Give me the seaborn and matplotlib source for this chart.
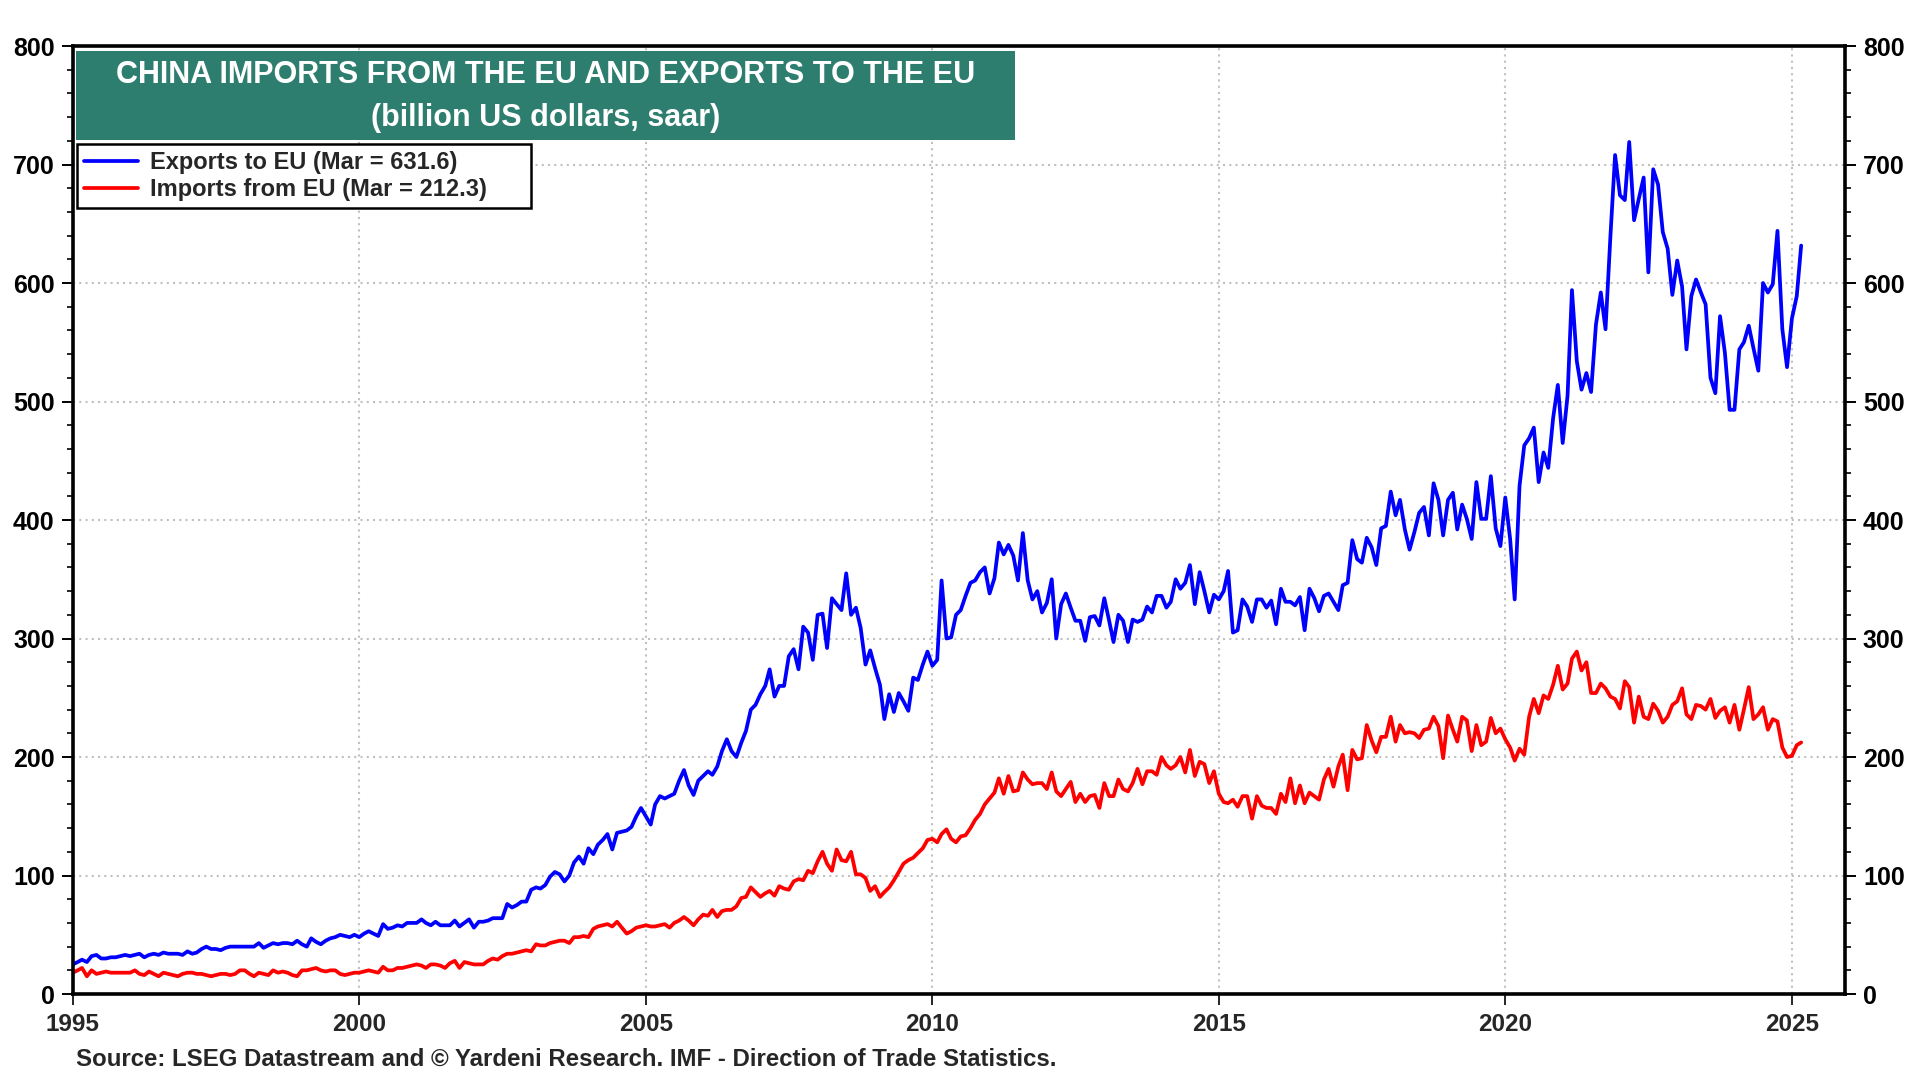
import numpy as np
import pandas as pd
import matplotlib
matplotlib.use("Agg")
import matplotlib.pyplot as plt
import matplotlib.dates as mdates
from matplotlib.patches import Rectangle
from matplotlib.ticker import MultipleLocator
import seaborn as sns

# monthly, billion US dollars saar, Jan 1995 .. Mar 2025 (one row per year)
exports = [
    25, 27, 29, 27, 32, 33, 30, 30, 31, 31, 32, 33,
    32, 33, 34, 31, 33, 34, 33, 35, 34, 34, 34, 33,
    36, 34, 35, 38, 40, 38, 38, 37, 39, 40, 40, 40,
    40, 40, 40, 43, 39, 41, 43, 42, 43, 43, 42, 45,
    42, 40, 47, 44, 42, 45, 47, 48, 50, 49, 48, 50,
    48, 51, 53, 51, 49, 59, 55, 56, 58, 57, 60, 60,
    60, 63, 60, 58, 61, 58, 58, 58, 62, 57, 60, 63,
    56, 61, 61, 62, 64, 64, 64, 76, 73, 75, 78, 78,
    88, 90, 89, 92, 99, 103, 101, 95, 100, 111, 116, 110,
    123, 118, 126, 130, 135, 122, 136, 137, 138, 141, 150, 157,
    150, 143, 160, 167, 165, 167, 169, 180, 189, 176, 168, 180,
    184, 188, 185, 192, 205, 215, 205, 200, 212, 222, 240, 244,
    253, 260, 274, 251, 260, 260, 285, 291, 274, 310, 305, 282,
    320, 321, 292, 334, 329, 324, 355, 320, 326, 309, 278, 290,
    275, 261, 232, 253, 238, 254, 247, 239, 267, 265, 278, 289,
    277, 282, 349, 300, 301, 320, 324, 336, 347, 349, 356, 360,
    338, 351, 381, 371, 379, 370, 349, 389, 349, 333, 340, 322,
    330, 350, 300, 329, 338, 326, 315, 315, 298, 318, 319, 311,
    334, 315, 297, 320, 315, 297, 316, 314, 316, 327, 322, 336,
    336, 326, 331, 350, 342, 347, 362, 329, 356, 340, 322, 337,
    333, 340, 357, 305, 307, 333, 327, 314, 333, 333, 326, 332,
    312, 342, 331, 331, 328, 335, 307, 342, 334, 323, 336, 338,
    331, 324, 345, 347, 383, 367, 364, 385, 377, 362, 393, 395,
    424, 404, 417, 392, 375, 390, 406, 411, 387, 431, 417, 387,
    417, 423, 392, 413, 401, 384, 432, 401, 401, 437, 393, 378,
    419, 384, 333, 429, 463, 469, 478, 432, 457, 444, 486, 514,
    465, 505, 594, 534, 510, 524, 508, 565, 592, 561, 639, 708,
    674, 670, 719, 653, 671, 689, 609, 696, 683, 643, 629, 590,
    619, 597, 544, 589, 603, 592, 582, 520, 507, 572, 541, 493,
    493, 544, 550, 564, 545, 526, 600, 592, 599, 644, 561, 529,
    570, 589, 631.6,
]

imports = [
    18, 20, 22, 15, 20, 17, 18, 19, 18, 18, 18, 18,
    18, 20, 17, 16, 19, 17, 15, 18, 17, 16, 15, 17,
    18, 18, 17, 17, 16, 15, 16, 17, 17, 16, 17, 20,
    20, 17, 15, 18, 17, 16, 20, 18, 19, 18, 16, 15,
    20, 20, 21, 22, 20, 19, 20, 20, 17, 16, 17, 18,
    18, 19, 20, 19, 18, 23, 20, 20, 22, 22, 23, 24,
    25, 24, 22, 25, 25, 24, 22, 26, 28, 22, 27, 26,
    25, 25, 25, 28, 30, 29, 32, 34, 34, 35, 36, 37,
    36, 42, 41, 41, 43, 44, 45, 45, 43, 48, 48, 49,
    48, 55, 57, 58, 59, 57, 61, 56, 51, 53, 56, 57,
    58, 57, 57, 58, 59, 56, 60, 62, 65, 62, 58, 63,
    67, 66, 71, 65, 70, 71, 71, 74, 81, 82, 90, 86,
    82, 85, 87, 83, 91, 89, 88, 95, 97, 96, 104, 102,
    112, 120, 110, 104, 122, 113, 112, 120, 101, 101, 98, 87,
    91, 82, 86, 90, 96, 103, 110, 113, 115, 119, 123, 130,
    131, 128, 135, 139, 131, 128, 133, 134, 140, 147, 152, 160,
    165, 170, 182, 169, 184, 171, 172, 187, 181, 177, 178, 178,
    173, 187, 171, 167, 173, 179, 162, 169, 162, 167, 168, 157,
    178, 167, 167, 181, 173, 171, 178, 190, 177, 188, 188, 185,
    200, 193, 190, 193, 200, 187, 206, 184, 196, 194, 178, 188,
    169, 162, 161, 164, 158, 167, 167, 148, 167, 159, 157, 157,
    152, 169, 162, 182, 161, 176, 161, 170, 167, 164, 181, 190,
    175, 192, 202, 172, 206, 198, 199, 227, 214, 204, 217, 217,
    234, 213, 227, 220, 221, 220, 216, 223, 224, 234, 226, 199,
    235, 223, 213, 234, 231, 205, 227, 210, 213, 233, 220, 224,
    215, 208, 197, 207, 202, 234, 249, 237, 252, 249, 261, 277,
    257, 262, 283, 289, 273, 280, 254, 254, 262, 258, 251, 249,
    241, 264, 259, 229, 251, 234, 232, 245, 239, 229, 234, 244,
    247, 258, 236, 232, 244, 243, 240, 249, 233, 239, 242, 229,
    244, 223, 240, 259, 232, 236, 242, 223, 232, 230, 208, 200,
    201, 210, 212.3,
]

months = pd.date_range("1995-01-01", periods=len(exports), freq="MS")
exp_label = f"Exports to EU (Mar = {exports[-1]:.1f})"
imp_label = f"Imports from EU (Mar = {imports[-1]:.1f})"

df = pd.DataFrame({
    "date": list(months) * 2,
    "value": exports + imports,
    "series": [exp_label] * len(exports) + [imp_label] * len(imports),
})

sns.set_style("white")
plt.rcParams["font.family"] = ["Liberation Sans", "DejaVu Sans"]
plt.rcParams["font.weight"] = "bold"

fig = plt.figure(figsize=(19.2, 10.8), dpi=100)
ax = fig.add_axes([0.0379, 0.0796, 0.9230, 0.8778])

sns.lineplot(data=df, x="date", y="value", hue="series",
             hue_order=[exp_label, imp_label], palette=["#0000ff", "#ff0000"],
             linewidth=2.7, errorbar=None, ax=ax)

ax.set_ylim(0, 800)
ax.set_xlim(pd.Timestamp("1995-01-01"), pd.Timestamp("2025-12-05"))
ax.set_xlabel("")
ax.set_ylabel("")

ax.xaxis.set_major_locator(mdates.YearLocator(5))
ax.xaxis.set_major_formatter(mdates.DateFormatter("%Y"))
ax.yaxis.set_major_locator(MultipleLocator(100))
ax.yaxis.set_minor_locator(MultipleLocator(20))

ax.grid(True, which="major", color="#c0c0c0", linestyle=(0, (1, 2)), linewidth=1.5)
for s in ax.spines.values():
    s.set_linewidth(2.6)
    s.set_color("black")

ax.tick_params(axis="y", which="both", direction="out", left=True, right=True,
               labelleft=True, labelright=True, labelsize=18, colors="black")
ax.tick_params(axis="y", which="major", length=8, width=1.4, pad=5)
ax.tick_params(axis="y", which="minor", length=4, width=1.2)
ax.tick_params(axis="x", which="major", direction="out", bottom=True,
               length=8, width=1.4, labelsize=17.5, pad=6)

# title box
ax.add_patch(Rectangle((0.0019, 0.9008), 0.5298, 0.0939, transform=ax.transAxes,
                       facecolor="#2e7e70", edgecolor="none", zorder=4))
fig.text(0.2841, 0.9306, "CHINA IMPORTS FROM THE EU AND EXPORTS TO THE EU",
         color="white", fontsize=22, fontweight="bold", ha="center", va="center", zorder=6)
fig.text(0.2841, 0.8912, "(billion US dollars, saar)",
         color="white", fontsize=22, fontweight="bold", ha="center", va="center", zorder=6)

leg = ax.legend(loc="upper left", bbox_to_anchor=(0.0024, 0.8966, 0.2562, 0),
                mode="expand", borderaxespad=0,
                frameon=True, fancybox=False, framealpha=1, edgecolor="black",
                prop={"size": 17, "weight": "bold"}, handlelength=2.3,
                labelspacing=0.18, borderpad=0.3, handletextpad=0.5)
leg.get_frame().set_linewidth(1.8)
leg.set_zorder(5)
for line in leg.get_lines():
    line.set_linewidth(2.7)

fig.text(0.0396, 1 - 1059 / 1080,
         "Source: LSEG Datastream and \u00a9 Yardeni Research. IMF - Direction of Trade Statistics.",
         fontsize=17.3, fontweight="bold", ha="left", va="center")

fig.savefig("out.png", dpi=100)
